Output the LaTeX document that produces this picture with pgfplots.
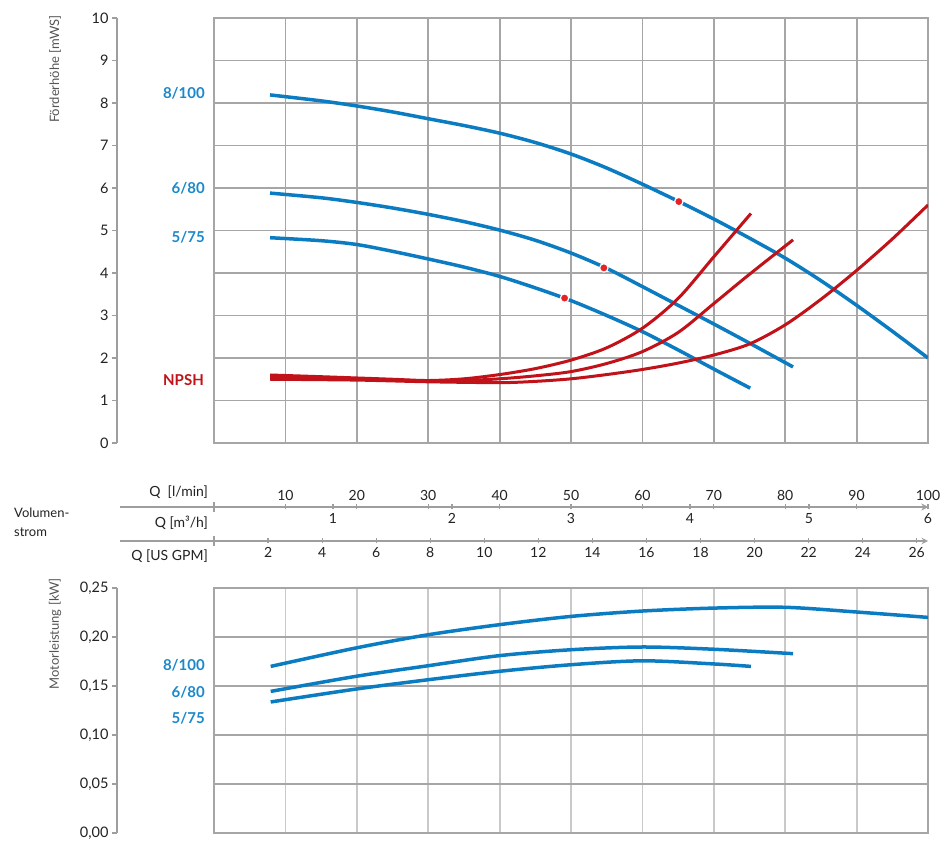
\documentclass[border=0pt]{standalone}
\usepackage{pgfplots}
\pgfplotsset{compat=1.18}
\usepackage{fontspec}
\setmainfont{Lato}
\definecolor{cblue}{HTML}{0B7CC1}
\definecolor{lblue}{HTML}{1A88CA}
\definecolor{cred}{HTML}{C01218}
\definecolor{dred}{HTML}{E52326}
\definecolor{gridg}{HTML}{A6A6A6}
\definecolor{gridl}{HTML}{C9C9C9}
\definecolor{axg}{HTML}{9E9E9E}
\definecolor{txt}{HTML}{222222}
\definecolor{lab}{HTML}{555555}
\pgfplotsset{
  noarrows/.style={axis line style={-},
    every inner x axis line/.append style={-}, every outer x axis line/.append style={-},
    every inner y axis line/.append style={-}, every outer y axis line/.append style={-}},
  yax/.style={anchor=south west, scale only axis, width=1pt, xmin=0, xmax=1,
    axis x line=none, axis y line=left, noarrows, tick align=outside, major tick length=5pt,
    tick style={axg, line width=1.2pt}, axis line style={axg, line width=1.5pt},
    yticklabel style={font=\fontsize{14.5}{14.5}\selectfont, text=txt},
    /pgf/number format/assume math mode=true},
  midax/.style={anchor=south west, scale only axis, height=1pt, width=808pt, ymin=0, ymax=1,
    axis y line=none, ytick=\empty, noarrows, tick align=outside, major tick length=5pt,
    tick style={axg, line width=1.2pt}, axis line style={axg, line width=1.8pt},
    xticklabel style={font=\fontsize{14}{14}\selectfont, text=txt},
    /pgf/number format/assume math mode=true},
}
\begin{document}
\begin{tikzpicture}
\useasboundingbox (0,0) rectangle (940pt,852pt);
% ---------- top chart ----------
\begin{axis}[at={(214pt,409pt)}, anchor=south west, scale only axis, width=714pt, height=425pt,
  xmin=0, xmax=100, ymin=0, ymax=10, xtick={0,10,...,100}, ytick={0,...,10},
  xticklabels={}, yticklabels={}, major tick length=0pt, grid=major,
  major grid style={gridg, line width=1.8pt}, axis line style={gridg, line width=1.8pt}]
\addplot[cblue, line width=3.5pt, smooth] coordinates {
(7.85,8.19)(15,8.05)(20,7.93)(25,7.79)(30,7.63)(35,7.47)(40,7.29)(45,7.07)(50,6.80)(55,6.47)(60,6.09)(65,5.69)(70,5.27)(75,4.82)(80,4.35)(85,3.82)(90,3.24)(95,2.63)(100,2.00)};
\addplot[cblue, line width=3.5pt, smooth] coordinates {
(7.85,5.88)(15,5.77)(20,5.66)(25,5.53)(30,5.38)(35,5.21)(40,5.01)(45,4.77)(50,4.47)(55,4.11)(60,3.68)(65,3.24)(70,2.80)(75,2.35)(81.1,1.79)};
\addplot[cblue, line width=3.5pt, smooth] coordinates {
(7.85,4.83)(15,4.76)(20,4.67)(25,4.51)(30,4.33)(35,4.14)(40,3.92)(45,3.65)(50,3.35)(55,3.00)(60,2.62)(65,2.19)(70,1.74)(75.1,1.29)};
% NPSH
\addplot[cred, line width=3pt, smooth] coordinates {
(7.85,1.60)(15,1.56)(20,1.53)(25,1.50)(30,1.47)(35,1.51)(40,1.61)(45,1.75)(50,1.95)(55,2.24)(60,2.70)(65,3.40)(70,4.38)(75.2,5.40)};
\addplot[cred, line width=3pt, smooth] coordinates {
(7.85,1.55)(20,1.51)(30,1.46)(35,1.47)(40,1.51)(45,1.58)(50,1.68)(55,1.87)(60,2.15)(65,2.60)(70,3.28)(75,3.97)(81.1,4.78)};
\addplot[cred, line width=3pt, smooth] coordinates {
(7.85,1.50)(20,1.48)(30,1.44)(40,1.42)(45,1.45)(50,1.51)(55,1.61)(60,1.73)(65,1.88)(70,2.07)(75,2.33)(80,2.78)(85,3.38)(90,4.06)(95,4.80)(100,5.60)};
\addplot[only marks, mark=*, mark size=4.2pt, mark options={fill=dred, draw=white, line width=1.2pt}] coordinates {
(65.1,5.68)(54.6,4.12)(49.1,3.41)};
\end{axis}
\begin{axis}[yax, at={(117pt,409pt)}, height=425pt, ymin=0, ymax=10, ytick={0,...,10}]
\addplot[draw=none] coordinates {(0,0)};
\end{axis}
% ---------- middle scales ----------
\begin{axis}[midax, at={(120pt,344pt)}, xmin=-13.17, xmax=100, axis x line=top,
  xtick={10,20,...,100}, extra x ticks={0}, extra x tick labels={}, extra x tick style={tick align=center, major tick length=10pt}]
\addplot[draw=none] coordinates {(0,0)};
\end{axis}
\begin{axis}[midax, at={(120pt,345pt)}, xmin=-0.7902, xmax=6, axis x line=bottom,
  xtick={1,...,6}]
\addplot[draw=none] coordinates {(0,0)};
\end{axis}
\begin{axis}[midax, at={(120pt,311pt)}, xmin=-3.479, xmax=26.417, axis x line=bottom,
  xtick={2,4,...,26}, extra x ticks={0}, extra x tick labels={}, extra x tick style={tick align=center, major tick length=10pt}]
\addplot[draw=none] coordinates {(0,0)};
\end{axis}
% ---------- bottom chart ----------
\begin{axis}[at={(214pt,19pt)}, anchor=south west, scale only axis, width=714pt, height=245pt,
  xmin=0, xmax=100, ymin=0, ymax=0.25, xtick={0,10,...,100}, ytick={0,0.05,...,0.25},
  xticklabels={}, yticklabels={}, major tick length=0pt, grid=major,
  x grid style={gridl, line width=1.8pt}, y grid style={gridg, line width=1.8pt},
  axis line style={gridg, line width=1.8pt}]
\addplot[cblue, line width=3.5pt, smooth] coordinates {
(7.94,0.170)(20,0.189)(30,0.2023)(40,0.2126)(50,0.221)(60,0.2265)(70,0.2295)(80,0.2303)(90,0.2255)(100,0.220)};
\addplot[cblue, line width=3.5pt, smooth] coordinates {
(7.94,0.1445)(20,0.160)(30,0.1707)(40,0.181)(50,0.187)(60,0.1898)(70,0.1875)(81.1,0.183)};
\addplot[cblue, line width=3.5pt, smooth] coordinates {
(7.94,0.1337)(20,0.147)(30,0.1564)(40,0.165)(50,0.1717)(60,0.1757)(70,0.1725)(75.2,0.170)};
\end{axis}
\begin{axis}[yax, at={(117pt,19pt)}, height=245pt, ymin=0, ymax=0.25, ytick={0,0.05,...,0.25},
  yticklabel={\pgfmathprintnumber[fixed, fixed zerofill, precision=2, use comma]{\tick}}]
\addplot[draw=none] coordinates {(0,0)};
\end{axis}
% ---------- texts ----------
\begin{scope}[every node/.style={inner sep=0pt}]
\node[anchor=east, rotate=90, text=lab, font=\fontsize{13}{13}\selectfont] at (55pt,837pt) {Förderhöhe [mWS]};
\node[anchor=east, rotate=90, text=lab, font=\fontsize{13}{13}\selectfont] at (55pt,274pt) {Motorleistung [kW]};
\node[anchor=east, text=lblue, font=\fontsize{15}{15}\selectfont\bfseries] at (205pt,759pt) {8/100};
\node[anchor=east, text=lblue, font=\fontsize{15}{15}\selectfont\bfseries] at (205pt,664pt) {6/80};
\node[anchor=east, text=lblue, font=\fontsize{15}{15}\selectfont\bfseries] at (205pt,615pt) {5/75};
\node[anchor=east, text=cred, font=\fontsize{15}{15}\selectfont\bfseries] at (204pt,472pt) {NPSH};
\node[anchor=east, text=lblue, font=\fontsize{15}{15}\selectfont\bfseries] at (205pt,187pt) {8/100};
\node[anchor=east, text=lblue, font=\fontsize{15}{15}\selectfont\bfseries] at (205pt,160pt) {6/80};
\node[anchor=east, text=lblue, font=\fontsize{15}{15}\selectfont\bfseries] at (205pt,134pt) {5/75};
\node[anchor=east, text=txt, font=\fontsize{14}{14}\selectfont] at (208pt,360pt) {Q\ \ [l/min]};
\node[anchor=east, text=txt, font=\fontsize{14}{14}\selectfont] at (208pt,329pt) {Q [m³/h]};
\node[anchor=east, text=txt, font=\fontsize{14}{14}\selectfont] at (208pt,296pt) {Q [US GPM]};
\node[anchor=west, text=txt, font=\fontsize{13}{13}\selectfont] at (14pt,339pt) {Volumen-};
\node[anchor=west, text=txt, font=\fontsize{13}{13}\selectfont] at (14pt,320pt) {strom};
\end{scope}
\end{tikzpicture}
\end{document}
